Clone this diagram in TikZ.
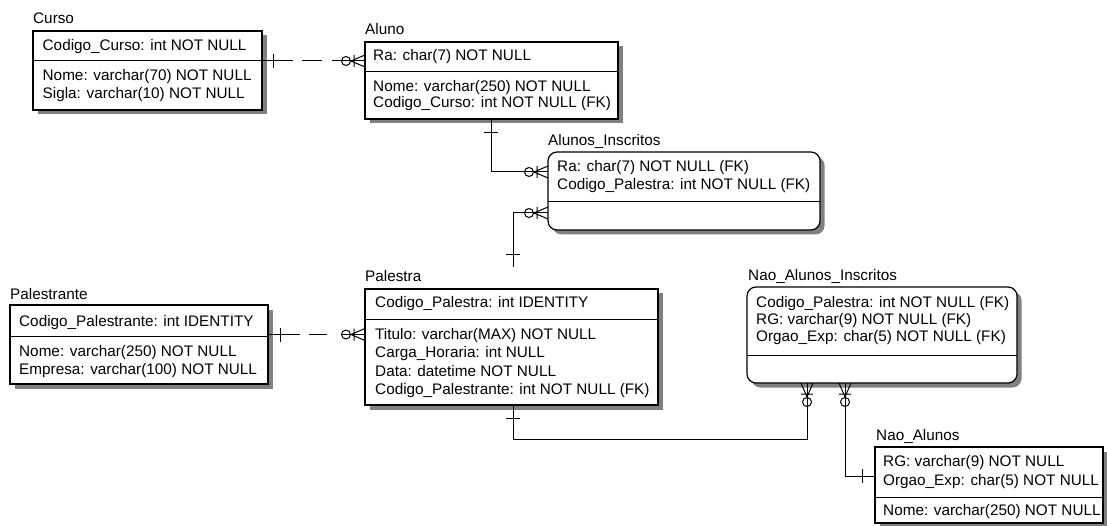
\documentclass[tikz,border=0pt]{standalone}
\usepackage{fontspec}
\setmainfont{Liberation Sans}
\usetikzlibrary{fit,shadows}
\newcommand\etfont{\fontsize{15.3}{18}\selectfont}
\begin{document}
\begin{tikzpicture}[x=1pt,y=-1pt,
  ent/.style={draw, line width=1.2pt, fill=white, inner sep=0pt, outer sep=0pt,
    general shadow={fill=black!50, shadow xshift=4.5pt, shadow yshift=-4.5pt}},
  entr/.style={ent, rounded corners=9pt},
  sepline/.style={line width=1pt},
  lbl/.style={anchor=base west, inner sep=0pt, font=\etfont},
  rel/.style={line width=1pt},
  dashA/.style={dash pattern=on 31pt off 9pt on 20pt off 10pt on 200pt off 1pt},
  dashB/.style={dash pattern=on 32pt off 9pt on 18pt off 14pt on 200pt off 1pt},
  one/.pic={\draw[rel] (-#1,-7) -- (-#1,7);},
  many/.pic={\draw[rel] (-14,0) -- (0,-6) (-14,0) -- (0,6) (-11,-6) -- (-11,6);
             \draw[rel] (-19,0) circle (4.5pt);},
]
\useasboundingbox (0,0) rectangle (1107,526);
\fill[white] (0,0) rectangle (1107,526);

% ---------- Curso
\node[ent, fit={(33,31) (262,110)}] (curso) {};
\draw[sepline] (33,61) -- (262,61);
\node[lbl] (tcurso) at (33,24) {Curso};
\node[lbl] (curso1) at (42.5,51) {Codigo\_Curso: int NOT NULL};
\node[lbl] (curso2) at (42.5,81) {Nome: varchar(70) NOT NULL};
\node[lbl] (curso3) at (42.5,99) {Sigla: varchar(10) NOT NULL};

% ---------- Aluno
\node[ent, fit={(365,42) (618,119)}] (aluno) {};
\draw[sepline] (365,72) -- (618,72);
\node[lbl] (taluno) at (365,35) {Aluno};
\node[lbl] (aluno1) at (373,61) {Ra: char(7) NOT NULL};
\node[lbl] (aluno2) at (373,91.5) {Nome: varchar(250) NOT NULL};
\node[lbl] (aluno3) at (373,108) {Codigo\_Curso: int NOT NULL (FK)};

% ---------- Alunos_Inscritos
\node[entr, fit={(548,152) (820,230)}] (ai) {};
\draw[sepline] (548,202) -- (820,202);
\node[lbl] (tai) at (548,146) {Alunos\_Inscritos};
\node[lbl] (ai1) at (557,172) {Ra: char(7) NOT NULL (FK)};
\node[lbl] (ai2) at (557,190) {Codigo\_Palestra: int NOT NULL (FK)};

% ---------- Palestrante
\node[ent, fit={(10,305) (268,384)}] (pte) {};
\draw[sepline] (10,336) -- (268,336);
\node[lbl] (tpte) at (10,299) {Palestrante};
\node[lbl] (pte1) at (19,326) {Codigo\_Palestrante: int IDENTITY};
\node[lbl] (pte2) at (19,356) {Nome: varchar(250) NOT NULL};
\node[lbl] (pte3) at (19,374.5) {Empresa: varchar(100) NOT NULL};

% ---------- Palestra
\node[ent, fit={(365,289) (658,405)}] (pal) {};
\draw[sepline] (365,319) -- (658,319);
\node[lbl] (tpal) at (365,282) {Palestra};
\node[lbl] (pal1) at (375,308) {Codigo\_Palestra: int IDENTITY};
\node[lbl] (pal2) at (375,339) {Titulo: varchar(MAX) NOT NULL};
\node[lbl] (pal3) at (375,357.5) {Carga\_Horaria: int NULL};
\node[lbl] (pal4) at (375,376) {Data: datetime NOT NULL};
\node[lbl] (pal5) at (375,394.5) {Codigo\_Palestrante: int NOT NULL (FK)};

% ---------- Nao_Alunos_Inscritos
\node[entr, fit={(747,287) (1017,383)}] (nai) {};
\draw[sepline] (747,355) -- (1017,355);
\node[lbl] (tnai) at (748,280) {Nao\_Alunos\_Inscritos};
\node[lbl] (nai1) at (756,307) {Codigo\_Palestra: int NOT NULL (FK)};
\node[lbl] (nai2) at (756,324) {RG: varchar(9) NOT NULL (FK)};
\node[lbl] (nai3) at (756,341) {Orgao\_Exp: char(5) NOT NULL (FK)};

% ---------- Nao_Alunos
\node[ent, fit={(875,447) (1103,523)}] (na) {};
\draw[sepline] (875,497) -- (1103,497);
\node[lbl] (tna) at (876,440) {Nao\_Alunos};
\node[lbl] (na1) at (883,466) {RG: varchar(9) NOT NULL};
\node[lbl] (na2) at (883,485) {Orgao\_Exp: char(5) NOT NULL};
\node[lbl] (na3) at (883,515) {Nome: varchar(250) NOT NULL};

% ---------- connector end points
\coordinate (r1a) at (262,61);    \coordinate (r1b) at (365,61);
\coordinate (r2a) at (491,119);   \coordinate (r2b) at (548,172);
\coordinate (r3a) at (513,267);   \coordinate (r3b) at (548,213);
\coordinate (r4a) at (268,334.5); \coordinate (r4b) at (365,334.5);
\coordinate (r5a) at (513,405);   \coordinate (r5b) at (807,383);
\coordinate (r6a) at (875,476);   \coordinate (r6b) at (845,383);

% Curso -> Aluno
\draw[rel, dashA] (r1a) -- (r1b);
\pic[rotate=180] at (r1a) {one=11};
\pic at (r1b) {many};
% Aluno -> Alunos_Inscritos
\draw[rel] (r2a) |- (r2b);
\pic[rotate=90] at (r2a) {one=14};
\pic at (r2b) {many};
% Palestra -> Alunos_Inscritos
\draw[rel] (r3a) |- (r3b);
\pic[rotate=-90] at (r3a) {one=12};
\pic at (r3b) {many};
% Palestrante -> Palestra
\draw[rel, dashB] (r4a) -- (r4b);
\pic[rotate=180] at (r4a) {one=12};
\pic at (r4b) {many};
% Palestra -> Nao_Alunos_Inscritos
\draw[rel] (r5a) -- (513,439) -| (r5b);
\pic[rotate=90] at (r5a) {one=13};
\pic[rotate=90] at (r5b) {many};
% Nao_Alunos -> Nao_Alunos_Inscritos
\draw[rel] (r6a) -| (r6b);
\pic at (r6a) {one=13};
\pic[rotate=90] at (r6b) {many};
\end{tikzpicture}
\end{document}
